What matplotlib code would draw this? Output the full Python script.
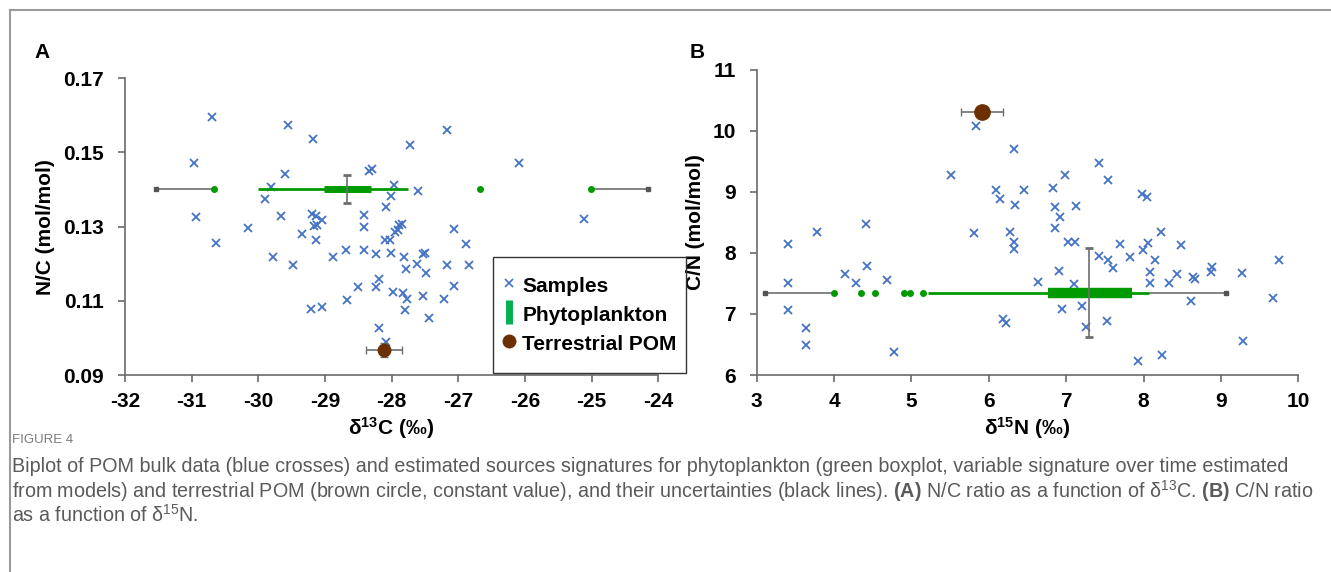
import matplotlib
matplotlib.use("Agg")
import matplotlib.pyplot as plt
from matplotlib.lines import Line2D
from matplotlib.patches import Rectangle

plt.rcParams['font.family'] = ['Liberation Sans', 'DejaVu Sans']
plt.rcParams['mathtext.fontset'] = 'custom'
plt.rcParams['mathtext.rm'] = 'Liberation Sans'
plt.rcParams['mathtext.it'] = 'Liberation Sans:italic'
plt.rcParams['mathtext.bf'] = 'Liberation Sans:bold'

# panel A: samples (d13C, N/C)
a_x = [-30.70, -30.97, -30.93, -30.63, -29.55, -29.18, -27.73, -29.60, -29.81, -29.90,
       -28.34, -28.30, -27.96, -28.01, -28.09, -27.61, -30.15, -29.66, -29.20, -29.13,
       -29.05, -29.16, -29.12, -29.14, -29.35, -29.78, -29.48, -28.88, -28.69, -28.42,
       -28.41, -28.42, -28.24, -28.01, -28.10, -28.03, -27.95, -27.91, -27.85, -27.89,
       -27.81, -27.79, -27.62, -28.19, -28.24, -28.50, -28.67, -27.98, -27.83, -27.77,
       -27.80, -29.21, -29.05, -28.19, -28.08, -27.17, -26.09, -25.12, -27.07, -26.89,
       -27.53, -27.50, -27.48, -27.17, -26.84, -27.07, -27.53, -27.21, -27.44]
a_y = [0.1597, 0.1471, 0.1326, 0.1256, 0.1575, 0.1537, 0.1519, 0.1443, 0.1407, 0.1374,
       0.1450, 0.1455, 0.1411, 0.1383, 0.1353, 0.1397, 0.1297, 0.1328, 0.1333, 0.1328,
       0.1317, 0.1301, 0.1304, 0.1263, 0.1280, 0.1218, 0.1196, 0.1218, 0.1236, 0.1331,
       0.1299, 0.1236, 0.1226, 0.1228, 0.1263, 0.1263, 0.1286, 0.1292, 0.1308, 0.1304,
       0.1217, 0.1187, 0.1199, 0.1160, 0.1138, 0.1136, 0.1102, 0.1123, 0.1120, 0.1105,
       0.1075, 0.1077, 0.1084, 0.1028, 0.0990, 0.1561, 0.1471, 0.1320, 0.1293, 0.1253,
       0.1226, 0.1228, 0.1176, 0.1196, 0.1196, 0.1140, 0.1113, 0.1105, 0.1055]

# panel A: phytoplankton boxplot (horizontal, in d13C)
a_phyto_level = 0.1401
a_phyto_whisk = [-30.00, -27.75]
a_phyto_box = [-29.01, -28.31]
a_phyto_med = -28.67
a_phyto_med_err = 0.0037
a_phyto_out = [-30.66, -26.68, -25.01]
a_phyto_unc = [(-31.54, -30.66), (-25.01, -24.15)]
# panel A: terrestrial POM
a_pom = (-28.12, 0.0967)
a_pom_err = (0.27, 0.0019)

# panel B: samples (d15N, C/N)
b_x = [5.84, 6.32, 5.51, 6.09, 6.46, 6.14, 6.34, 5.81, 6.27, 6.33,
       6.33, 6.63, 6.18, 6.22, 3.41, 3.41, 3.41, 3.78, 3.64, 3.64,
       4.41, 4.43, 4.14, 4.29, 4.69, 4.78, 7.42, 6.98, 7.54, 6.83,
       7.98, 8.04, 6.85, 7.13, 6.92, 6.86, 8.23, 7.02, 7.11, 7.70,
       8.49, 8.06, 7.99, 7.43, 7.54, 7.82, 7.60, 8.15, 9.75, 6.91,
       8.09, 8.43, 8.64, 8.67, 8.88, 8.87, 9.27, 7.10, 8.09, 8.33,
       8.61, 9.67, 6.95, 7.21, 7.53, 7.26, 9.29, 7.93, 8.24]
b_y = [10.08, 9.70, 9.27, 9.03, 9.03, 8.89, 8.78, 8.33, 8.34, 8.18,
       8.07, 7.52, 6.91, 6.85, 8.14, 7.51, 7.06, 8.34, 6.77, 6.49,
       8.48, 7.79, 7.65, 7.50, 7.56, 6.38, 9.47, 9.27, 9.20, 9.06,
       8.96, 8.92, 8.75, 8.77, 8.59, 8.41, 8.34, 8.18, 8.18, 8.14,
       8.13, 8.17, 8.05, 7.95, 7.89, 7.94, 7.75, 7.89, 7.89, 7.71,
       7.68, 7.66, 7.61, 7.58, 7.77, 7.69, 7.67, 7.49, 7.51, 7.50,
       7.21, 7.26, 7.08, 7.13, 6.88, 6.78, 6.56, 6.23, 6.33]

b_phyto_level = 7.35
b_phyto_whisk = [5.21, 8.07]
b_phyto_box = [6.76, 7.85]
b_phyto_med = 7.30
b_phyto_med_err = 0.73
b_phyto_out = [4.00, 4.35, 4.53, 4.91, 4.98, 5.15]
b_phyto_unc = [(3.11, 4.00), (8.07, 9.07)]
b_pom = (5.91, 10.31)
b_pom_err = (0.27, 0.03)

blue = '#4472c4'
green = '#009a00'
grey = '#6e6e6e'
brown = '#6b2f00'
FS = 15

fig = plt.figure(figsize=(13.31, 5.72), dpi=100)
axA = fig.add_axes([0.0939, 0.3444, 0.4007, 0.5187])
axB = fig.add_axes([0.5685, 0.3444, 0.4069, 0.5337])


def draw_panel(ax, xs, ys, level, whisk, box, med, med_err, outs, unc, pom, pom_err,
               box_lw, pom_ms):
    ax.plot(xs, ys, 'x', color=blue, ms=6, mew=1.3, zorder=3)
    for lo, hi in unc:
        ax.plot([lo, hi], [level, level], color=grey, lw=1.2, zorder=2)
    ax.plot([unc[0][0], unc[1][1]], [level, level], 's', color='#555555', ms=3.5, zorder=2)
    ax.plot(whisk, [level, level], color=green, lw=2, solid_capstyle='butt', zorder=4)
    ax.plot(box, [level, level], color=green, lw=box_lw, solid_capstyle='butt', zorder=4)
    ax.plot(outs, [level] * len(outs), 'o', color=green, ms=4, zorder=4)
    ax.errorbar(med, level, yerr=med_err, fmt='none', ecolor=grey, elinewidth=1.2,
                capsize=3, capthick=2, zorder=5)
    ax.errorbar(pom[0], pom[1], xerr=pom_err[0], yerr=pom_err[1], fmt='o', color=brown,
                ms=pom_ms, ecolor=grey, elinewidth=1.2, capsize=3, zorder=6)
    for s in ['top', 'right']:
        ax.spines[s].set_visible(False)
    for s in ['left', 'bottom']:
        ax.spines[s].set_color('#6a6a6a')
        ax.spines[s].set_linewidth(1.2)
    ax.tick_params(direction='out', length=5, width=1.2, color='#6a6a6a', labelsize=FS, pad=7)
    ax.tick_params(axis='y', pad=10)


draw_panel(axA, a_x, a_y, a_phyto_level, a_phyto_whisk, a_phyto_box, a_phyto_med,
           a_phyto_med_err, a_phyto_out, a_phyto_unc, a_pom, a_pom_err, 5, 9)
axA.set_xlim(-32, -24)
axA.set_ylim(0.09, 0.17)
axA.set_xticks(range(-32, -23))
axA.set_yticks([0.09, 0.11, 0.13, 0.15, 0.17])
axA.set_yticklabels(['0.09', '0.11', '0.13', '0.15', '0.17'])
axA.set_xticklabels([str(v) for v in range(-32, -23)])
axA.set_ylabel('N/C (mol/mol)', fontsize=FS, fontweight='bold')
axA.set_xlabel(r'δ$^{\mathbf{13}}$C (‰)', fontsize=FS, fontweight='bold')
axA.yaxis.set_label_coords(-0.131, 0.5)
axA.xaxis.set_label_coords(0.5, -0.135)

draw_panel(axB, b_x, b_y, b_phyto_level, b_phyto_whisk, b_phyto_box, b_phyto_med,
           b_phyto_med_err, b_phyto_out, b_phyto_unc, b_pom, b_pom_err, 7.5, 11)
axB.set_xlim(3, 10)
axB.set_ylim(6, 11)
axB.set_xticks(range(3, 11))
axB.set_yticks(range(6, 12))
axB.set_xticklabels([str(v) for v in range(3, 11)])
axB.set_yticklabels([str(v) for v in range(6, 12)])
axB.set_ylabel('C/N (mol/mol)', fontsize=FS, fontweight='bold')
axB.set_xlabel(r'δ$^{\mathbf{15}}$N (‰)', fontsize=FS, fontweight='bold')
axB.yaxis.set_label_coords(-0.095, 0.5)
axB.xaxis.set_label_coords(0.5, -0.131)
for ax in (axA, axB):
    for lab in ax.get_xticklabels() + ax.get_yticklabels():
        lab.set_fontweight('bold')

handles = [
    Line2D([], [], ls='none', marker='x', color=blue, ms=6, mew=1.2),
    Line2D([], [], ls='none', marker='|', color='#00b050', ms=17, mew=5),
    Line2D([], [], ls='none', marker='o', color=brown, ms=9),
]
leg = fig.legend(handles, ['Samples', 'Phytoplankton', 'Terrestrial POM'],
                 loc='center', bbox_to_anchor=(589.5 / 1331, 1 - 314 / 572),
                 prop={'weight': 'bold', 'size': FS}, frameon=False,
                 handlelength=0.6, handletextpad=0.35,
                 handleheight=1.2, labelspacing=0.35, borderpad=0.0, borderaxespad=0)
# legend box in the reference is taller than its rows
fig.add_artist(Rectangle((493 / 1331, 1 - 373 / 572), 193 / 1331, 116 / 572,
                         transform=fig.transFigure, fill=False, edgecolor='#333333', lw=1.0))

fig.text(42 / 1331, 1 - 52 / 572, 'A', fontsize=15, fontweight='bold', ha='center', va='center')
fig.text(697 / 1331, 1 - 52 / 572, 'B', fontsize=15, fontweight='bold', ha='center', va='center')

# frame lines of the figure box
fig.add_artist(Line2D([10 / 1331, 10 / 1331], [0, 1 - 10 / 572], color='#9a9a9a', lw=1.5))
fig.add_artist(Line2D([10 / 1331, 1], [1 - 10 / 572, 1 - 10 / 572], color='#9a9a9a', lw=1.5))

cap_col = '#5a5a5a'
fig.text(12 / 1331, 1 - 440 / 572, 'FIGURE 4', fontsize=9.5, color='#7a7a7a', va='center')
lines = [
    'Biplot of POM bulk data (blue crosses) and estimated sources signatures for phytoplankton '
    '(green boxplot, variable signature over time estimated',
    'from models) and terrestrial POM (brown circle, constant value), and their uncertainties '
    r'(black lines). $\mathbf{(A)}$ N/C ratio as a function of δ$^{13}$C. $\mathbf{(B)}$ C/N ratio',
    r'as a function of δ$^{15}$N.',
]
for i, t in enumerate(lines):
    fig.text(12 / 1331, 1 - (467 + 24 * i) / 572, t, fontsize=14.2, color=cap_col, va='center')

fig.savefig('out.png', dpi=100)
